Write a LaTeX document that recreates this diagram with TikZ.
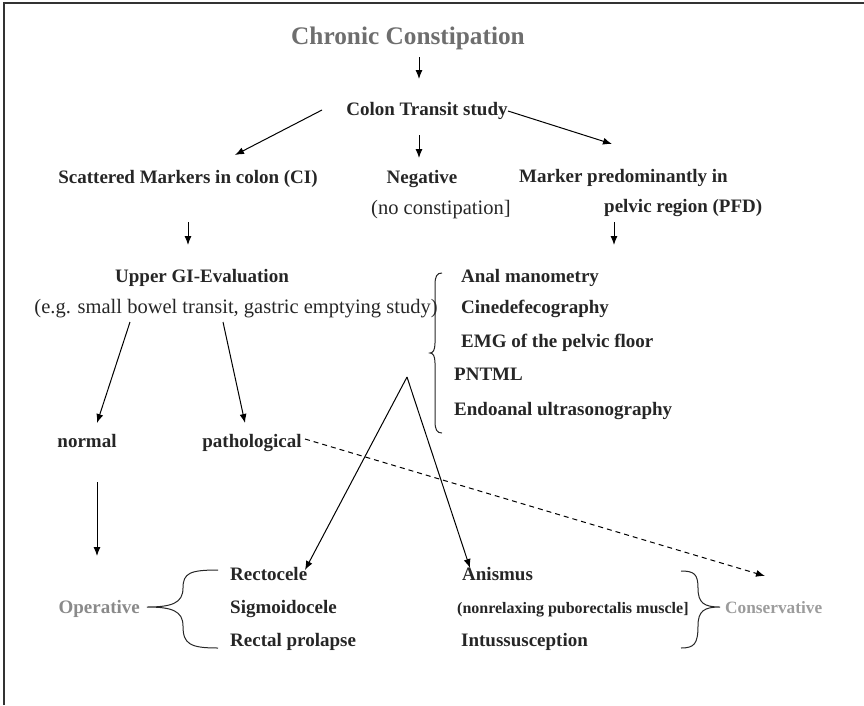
\documentclass[tikz,border=0pt]{standalone}
\usepackage{fontspec}
\setmainfont{Liberation Serif}
\usetikzlibrary{arrows.meta}
\definecolor{ink}{HTML}{262626}
\definecolor{titlegrey}{HTML}{6E6E6E}
\definecolor{outgrey}{HTML}{8A8A8A}
\begin{document}
\begin{tikzpicture}[x=1pt,y=-1pt,
  lbl/.style={font=\fontsize{19}{22}\selectfont\bfseries, text=ink, inner sep=0pt},
  plain/.style={font=\fontsize{20.5}{24}\selectfont, text=ink, inner sep=0pt},
  small/.style={font=\fontsize{16}{19}\selectfont\bfseries, text=ink, inner sep=0pt},
  outcome/.style={font=\fontsize{19}{22}\selectfont\bfseries, text=outgrey, inner sep=0pt},
  arr/.style={-{Latex[length=9pt,width=7pt]}, line width=1pt, draw=black},
  dasharr/.style={arr, dashed, dash pattern=on 5pt off 4pt},
  brace/.style={line width=1pt, draw=black!85}]
\useasboundingbox (0,0) rectangle (864,705);
% frame
\draw[line width=1.6pt, black!80] (4,705) -- (4,3) -- (864,3);

% title and first level
\node[font=\fontsize{25.3}{30}\selectfont\bfseries, text=titlegrey, inner sep=0pt, anchor=base] (title) at (408,44) {Chronic Constipation};
\node[lbl, anchor=base] (cts) at (427,115) {Colon Transit study};
\node[lbl, anchor=base] (ci) at (188,183) {Scattered Markers in colon (CI)};
\node[lbl, anchor=base] (neg) at (422,183) {Negative};
\node[plain, anchor=base west] (noc) at (371,214) {(no constipation]};
\node[lbl, anchor=base east] (pfd1) at (728,182) {Marker predominantly in};
\node[lbl, anchor=base west] (pfd2) at (604,212) {pelvic region (PFD)};

% upper GI branch
\node[lbl, anchor=base] (ugi) at (202,282) {Upper GI-Evaluation};
\node[plain, anchor=base] (eg) at (236,313) {(e.g. small bowel transit, gastric emptying study)};
\node[lbl, anchor=base] (normal) at (87,447) {normal};
\node[lbl, anchor=base] (patho) at (252,447) {pathological};

% pelvic floor work-up
\node[lbl, anchor=base west] (t1) at (461,282) {Anal manometry};
\node[lbl, anchor=base west] (t2) at (461,313) {Cinedefecography};
\node[lbl, anchor=base west] (t3) at (461,347) {EMG of the pelvic floor};
\node[lbl, anchor=base west] (t4) at (454,380) {PNTML};
\node[lbl, anchor=base west] (t5) at (454,415) {Endoanal ultrasonography};

% diagnoses and therapy
\node[outcome, anchor=base east] (oper) at (140,613) {Operative};
\node[lbl, anchor=base west] (d1) at (230,580) {Rectocele};
\node[lbl, anchor=base west] (d2) at (230,613) {Sigmoidocele};
\node[lbl, anchor=base west] (d3) at (230,646) {Rectal prolapse};
\node[lbl, anchor=base west] (d4) at (462,580) {Anismus};
\node[small, anchor=base west] (d5) at (457,613) {(nonrelaxing puborectalis muscle]};
\node[lbl, anchor=base west] (d6) at (461,646) {Intussusception};
\node[outcome, font=\fontsize{17.3}{21}\selectfont\bfseries, text=outgrey!85, anchor=base west] (cons) at (725,613) {Conservative};

% connector end points
\coordinate (title-out) at (419,57);
\coordinate (cts-in) at (419,79);
\coordinate (cts-down) at (419,135);
\coordinate (neg-in) at (419,158);
\coordinate (cts-left) at (322,110);
\coordinate (ci-in) at (235,155);
\coordinate (cts-right) at (508,111);
\coordinate (pfd-in) at (612,144);
\coordinate (ci-out) at (188,222);
\coordinate (ugi-in) at (188,245);
\coordinate (pfd-out) at (614,222);
\coordinate (tests-in) at (614,245);
\coordinate (eg-l) at (130,322);
\coordinate (normal-in) at (97,423);
\coordinate (eg-r) at (223,322);
\coordinate (patho-in) at (245,423);
\coordinate (normal-out) at (97,482);
\coordinate (oper-in) at (97,556);
\coordinate (patho-out) at (305,439);
\coordinate (cons-in) at (765,576);
\coordinate (apex) at (407,377);
\coordinate (d1-in) at (305,570);
\coordinate (d4-in) at (470,568);

% arrows
\draw[arr] (title-out) -- (cts-in);
\draw[arr] (cts-down) -- (neg-in);
\draw[arr] (cts-left) -- (ci-in);
\draw[arr] (cts-right) -- (pfd-in);
\draw[arr] (ci-out) -- (ugi-in);
\draw[arr] (pfd-out) -- (tests-in);
\draw[arr] (eg-l) -- (normal-in);
\draw[arr] (eg-r) -- (patho-in);
\draw[arr] (normal-out) -- (oper-in);
\draw[dasharr] (patho-out) -- (cons-in);
\draw[arr] (apex) -- (d1-in);
\draw[arr] (apex) -- (d4-in);

% brace grouping the pelvic floor tests
\draw[brace] (442,273) .. controls (437,273) and (435,276) .. (435,285) -- (435,343)
  .. controls (435,350) and (433,353) .. (430,353)
  .. controls (433,353) and (435,356) .. (435,363) -- (435,421)
  .. controls (435,430) and (437,433) .. (442,433);

% brace: operative group
\draw[brace] (218,570) .. controls (190,570) and (183,573) .. (183,588)
  .. controls (183,603) and (172,607) .. (147,607)
  .. controls (172,607) and (183,611) .. (183,626)
  .. controls (183,644) and (190,648) .. (218,648);

% brace: conservative group
\draw[brace] (681,571) .. controls (694,571) and (698,574) .. (698,588)
  .. controls (698,603) and (704,607) .. (720,607)
  .. controls (704,607) and (698,611) .. (698,626)
  .. controls (698,644) and (694,648) .. (681,648);
\end{tikzpicture}
\end{document}
